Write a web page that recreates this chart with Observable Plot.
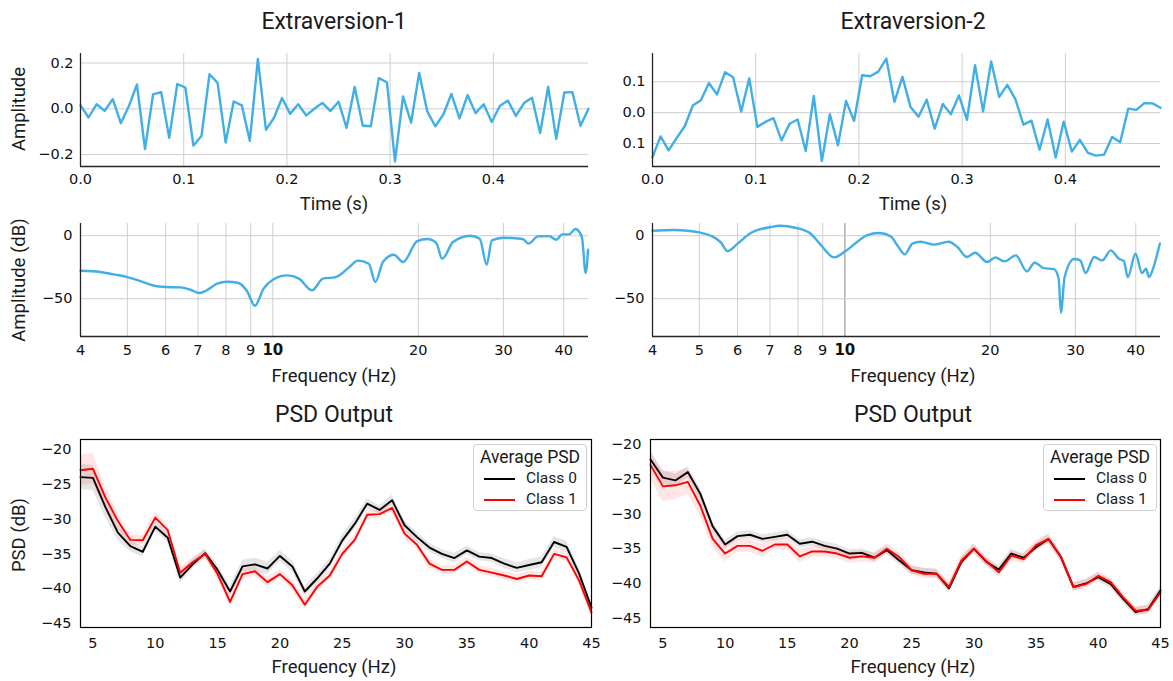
<!DOCTYPE html>
<html>
<head>
<meta charset="utf-8">
<script src="https://cdn.jsdelivr.net/npm/d3@7"></script>
<script src="https://cdn.jsdelivr.net/npm/@observablehq/plot@0.6"></script>
<style>
  html, body { margin: 0; padding: 0; background: #fff; }
  #fig { position: relative; width: 1173px; height: 681px; overflow: hidden; background: #fff; }
  .panel { position: absolute; }
  .panel svg { display: block; }
  .lbl { position: absolute; font-family: Roboto, sans-serif; font-size: 18.5px; color: #1a1a1a;
         white-space: nowrap; transform: translate(-50%, -50%); line-height: 1; }
  .rot { transform: translate(-50%, -50%) rotate(-90deg); }
  .title { font-size: 23px; }
  .legend { position: absolute; width: 114px; height: 67px; box-sizing: border-box;
            border: 1px solid #d0d0d0; border-radius: 4px; background: rgba(255,255,255,0.85);
            font-family: Roboto, sans-serif; color: #1a1a1a; }
  .legend .ltitle { position: absolute; left: 0; right: 0; top: 13px; text-align: center;
                    font-size: 17.5px; transform: translateY(-50%); line-height: 1; }
  .legend .swatch { position: absolute; left: 10px; width: 31px; height: 2px; }
  .legend .ltext { position: absolute; left: 52px; font-size: 15.5px; transform: translateY(-50%); line-height: 1; }
</style>
</head>
<body>
<div id="fig"></div>
<script>
// ---- Raw EEG segments (64 samples at 128 Hz) ----
const sampleRate = 128;
const ext1Amp = [0.015, -0.038, 0.02, -0.009, 0.042, -0.063, 0.012, 0.106, -0.176, 0.063,
  0.073, -0.127, 0.108, 0.093, -0.161, -0.119, 0.151, 0.113, -0.147, 0.032,
  0.015, -0.14, 0.218, -0.092, -0.039, 0.047, -0.022, 0.02, -0.029, 0.0,
  0.026, -0.01, 0.031, -0.083, 0.095, -0.073, -0.076, 0.134, 0.116, -0.23,
  0.054, -0.06, 0.157, -0.012, -0.076, -0.025, 0.065, -0.042, 0.06, -0.019,
  0.02, -0.058, 0.012, 0.036, -0.031, 0.025, 0.048, -0.106, 0.096, -0.131,
  0.071, 0.073, -0.074, 0.0];
const ext2Amp = [-0.144, -0.077, -0.122, -0.082, -0.044, 0.023, 0.04, 0.096, 0.059, 0.131,
  0.115, 0.004, 0.111, -0.046, -0.03, -0.018, -0.09, -0.036, -0.022, -0.124,
  0.054, -0.157, -0.005, -0.106, 0.038, -0.027, 0.121, 0.118, 0.133, 0.175,
  0.035, 0.116, 0.018, -0.013, 0.042, -0.052, 0.028, -0.005, 0.056, -0.023,
  0.154, 0.004, 0.166, 0.051, 0.09, 0.044, -0.039, -0.026, -0.12, -0.022,
  -0.145, -0.029, -0.126, -0.088, -0.13, -0.139, -0.136, -0.079, -0.096, 0.013,
  0.009, 0.031, 0.03, 0.016];
const timeTicks = [0, 0.1, 0.2, 0.3, 0.4];
const timeTickLabels = ["0.0", "0.1", "0.2", "0.3", "0.4"];
const ext1AmpTicks = [-0.2, 0, 0.2];
const ext1AmpTickLabels = ["\u22120.2", "0.0", "0.2"];
const ext2AmpTicks = [-0.1, 0, 0.1];
const ext2AmpTickLabels = ["0.1", "0.0", "0.1"];

// ---- Spectral amplitude of each segment (dB, log frequency) ----
const ext1RespFreq = [4, 4.4, 4.69, 5, 5.32, 5.68, 6, 6.44, 6.75, 7.05, 7.25, 7.67, 8.04, 8.46, 8.84, 9.18, 9.57,
  10.02, 10.7, 11.33, 12.05, 12.7, 13.5, 14.4, 15.0, 15.8, 16.3, 16.9, 17.8, 18.6, 19.9, 20.9, 21.8, 22.4,
  23.6, 25.6, 26.8, 27.7, 28.4, 30, 32.9, 33.8, 35.4, 37.3, 38.6, 39.7, 41, 42.3, 43.6, 44.4, 44.9];
const ext1RespDb = [-27.8, -28.8, -30.7, -32.8, -36, -39.7, -40.7, -41, -42.9, -45.5, -43.9, -38.1, -36.5, -37.3, -43.9, -55.6, -42,
  -34.7, -31.5, -34.1, -43.4, -34.1, -32.8, -24.9, -19.8, -22.2, -36.8, -20.9, -15.1, -20.9, -4.2, -2.6, -5.8, -18.3,
  -5, 0, -2.4, -23, -3.7, -1.6, -2.6, -6.3, -0.5, -0.3, -3.2, 1.1, 1.1, 5.3, -1, -29.6, -11.1];
const ext2RespFreq = [4, 4.43, 4.72, 5.0, 5.28, 5.54, 5.72, 6.0, 6.39, 7.03, 7.36, 7.9, 8.5, 8.9, 9.5, 9.97, 10.6, 11.1,
  11.77, 12.44, 12.85, 13.3, 13.8, 14.35, 15.3, 16.4, 17.1, 17.9, 18.6, 19.7, 20.5, 21.4, 22.6, 23.8, 24.7, 25.8,
  27.1, 27.7, 28.0, 28.5, 29.8, 30.7, 31.5, 32.8, 34.1, 35.5, 36.9, 37.8, 38.5, 39.95, 41.2, 42.0, 42.6, 43.6, 44.85];
const ext2RespDb = [4, 4.5, 4, 2.6, 0, -5.3, -12.2, -6.3, 2.1, 6.9, 7.9, 6.3, 1.6, -6.9, -17.2, -13, -5, 0.3,
  2.1, -0.5, -7.7, -14.8, -6.3, -4.8, -7.1, -4.8, -9, -16.9, -13.5, -20.9, -17.2, -20.4, -15.6, -28.3, -21.4, -25.7,
  -26.5, -34.1, -61.1, -32.8, -18.5, -19.6, -29.6, -16.9, -19.6, -11.6, -18.3, -20.1, -32.8, -14.3, -29.6, -26.2, -32.8, -24.1, -6.3];
const respFreqTicks = [4, 5, 6, 7, 8, 9, 10, 20, 30, 40];
const respDbTicks = [0, -50];
const respDbTickLabels = ["0", "\u221250"];

// ---- Average PSD per class, with spread (dB) ----
const psdFreq = [4, 5, 6, 7, 8, 9, 10, 11, 12, 13, 14, 15, 16, 17, 18, 19, 20, 21, 22, 23, 24,
  25, 26, 27, 28, 29, 30, 31, 32, 33, 34, 35, 36, 37, 38, 39, 40, 41, 42, 43, 44, 45];
const ext1Class0 = [-24.0, -24.1, -28.3, -31.95, -33.9, -34.7, -31.1, -32.7, -38.4, -36.5, -34.9, -37.3, -40.4, -36.8,
  -36.5, -37.1, -35.3, -36.8, -40.4, -38.5, -36.4, -33.1, -30.7, -27.8, -28.7, -27.3, -30.9, -32.6, -34.1, -35.0,
  -35.6, -34.5, -35.4, -35.6, -36.4, -37.0, -36.6, -36.2, -33.3, -34.0, -37.8, -42.7];
const ext1Class1 = [-23.0, -22.8, -26.9, -30.3, -33.0, -33.05, -29.8, -31.6, -37.7, -36.2, -35.0, -37.9, -41.9, -37.9,
  -37.5, -39.05, -37.9, -39.5, -42.3, -39.7, -38.1, -35.0, -33.0, -29.4, -29.3, -28.4, -32.1, -33.7, -36.4, -37.3,
  -37.3, -36.1, -37.3, -37.7, -38.1, -38.6, -38.1, -38.2, -35.0, -35.5, -38.8, -43.4];
const ext1Class0Spread = [1.8, 1.8, 1.5, 1.1, 0.8, 0.7, 0.6, 0.7, 0.8, 0.7, 0.6, 0.8, 0.8, 0.9, 0.9, 0.9, 0.8, 0.8,
  0.7, 0.7, 0.7, 0.8, 0.8, 0.7, 0.6, 0.7, 0.7, 0.7, 0.6, 0.6, 0.7, 0.6, 0.6, 0.6, 0.7, 0.7, 0.8, 0.8, 0.8, 0.8, 0.8, 0.6];
const ext1Class1Spread = [2.2, 2.2, 1.6, 1.1, 0.8, 0.7, 0.8, 0.8, 0.7, 0.6, 0.6, 0.7, 0.7, 0.7, 0.7, 0.7, 0.6, 0.7,
  0.7, 0.7, 0.7, 0.7, 0.7, 0.7, 0.6, 0.6, 0.7, 0.7, 0.7, 0.6, 0.6, 0.6, 0.6, 0.6, 0.6, 0.6, 0.6, 0.6, 0.6, 0.6, 0.6, 0.5];
const ext2Class0 = [-22.2, -24.8, -25.2, -24.0, -27.1, -31.8, -34.4, -33.2, -33.0, -33.6, -33.3, -33.0, -34.3, -34.0,
  -34.6, -35.0, -35.7, -35.6, -36.3, -35.2, -36.7, -38.1, -38.4, -38.6, -40.7, -36.9, -35.0, -36.9, -38.0, -35.7,
  -36.3, -34.8, -33.6, -36.2, -40.5, -40.0, -39.1, -40.1, -42.2, -44.1, -43.7, -41.0];
const ext2Class1 = [-23.0, -26.05, -25.9, -25.4, -28.8, -33.6, -35.7, -34.6, -34.6, -35.3, -34.4, -34.4, -36.1, -35.4,
  -35.4, -35.7, -36.3, -36.1, -36.3, -35.0, -36.2, -38.1, -38.6, -38.6, -40.5, -36.7, -35.0, -36.8, -38.4, -36.0,
  -36.5, -34.5, -33.6, -36.2, -40.5, -40.1, -38.9, -39.8, -42.0, -43.9, -43.8, -41.3];
const ext2Class0Spread = [1.0, 1.0, 0.9, 0.8, 0.8, 0.7, 0.6, 0.6, 0.6, 0.6, 0.6, 0.6, 0.6, 0.6, 0.6, 0.6, 0.6, 0.6,
  0.6, 0.6, 0.6, 0.6, 0.6, 0.6, 0.6, 0.6, 0.6, 0.6, 0.6, 0.6, 0.6, 0.6, 0.6, 0.6, 0.6, 0.6, 0.6, 0.6, 0.6, 0.6, 0.6, 0.6];
const ext2Class1Spread = [2.0, 2.2, 2.0, 1.8, 1.5, 1.3, 1.2, 0.9, 0.9, 0.9, 0.8, 0.8, 0.9, 0.8, 0.8, 0.8, 0.8, 0.8,
  0.8, 0.7, 0.7, 0.7, 0.7, 0.7, 0.7, 0.7, 0.7, 0.7, 0.7, 0.7, 0.7, 0.7, 0.7, 0.7, 0.6, 0.6, 0.6, 0.6, 0.6, 0.6, 0.6, 0.6];
const psdFreqTicks = [5, 10, 15, 20, 25, 30, 35, 40, 45];
const psdDbTicks = [-20, -25, -30, -35, -40, -45];
const psdDbTickLabels = ["\u221220", "\u221225", "\u221230", "\u221235", "\u221240", "\u221245"];
const classNames = ["Class 0", "Class 1"];
const classColors = ["#000000", "#ff0000"];

// ---- Shared styling ----
const lineBlue = "#41aee6";
const gridColor = "#cfcfcf";
const spineColor = "#262626";
const axisStyle = {
  fontFamily: "'DejaVu Sans', sans-serif", fontSize: "14.5px", color: "#111",
  background: "transparent", maxWidth: "none", overflow: "visible"
};
const labeler = (ticks, labels) => d => {
  const i = ticks.findIndex(t => Math.abs(t - d) < 1e-9);
  return i < 0 ? "" : labels[i];
};

const fig = document.getElementById("fig");
function mount(svg, left, top) {
  const holder = document.createElement("div");
  holder.className = "panel";
  holder.style.left = left + "px";
  holder.style.top = top + "px";
  holder.appendChild(svg);
  fig.appendChild(holder);
}
function text(str, x, y, cls) {
  const el = document.createElement("div");
  el.className = "lbl " + (cls || "");
  el.textContent = str;
  el.style.left = x + "px";
  el.style.top = y + "px";
  fig.appendChild(el);
}

// Time-domain panel
function timePanel(amp, yDomain, yTicks, yLabels, width, ml, mr) {
  const rows = amp.map((v, i) => ({t: i / sampleRate, v}));
  const xDomain = [0, (amp.length - 1) / sampleRate];
  return Plot.plot({
    width, height: 160, marginLeft: ml, marginRight: mr, marginTop: 13, marginBottom: 34,
    style: axisStyle,
    x: {domain: xDomain, ticks: timeTicks, tickFormat: labeler(timeTicks, timeTickLabels),
        tickSize: 0, tickPadding: 7, label: null},
    y: {domain: yDomain, ticks: yTicks, tickFormat: labeler(yTicks, yLabels),
        tickSize: 0, tickPadding: 7, label: null},
    marks: [
      Plot.ruleX(timeTicks, {stroke: gridColor, strokeWidth: 1}),
      Plot.ruleY(yTicks, {stroke: gridColor, strokeWidth: 1}),
      Plot.line(rows, {x: "t", y: "v", stroke: lineBlue, strokeWidth: 2.4}),
      Plot.ruleX([xDomain[0]], {stroke: spineColor, strokeWidth: 1.3}),
      Plot.ruleY([yDomain[0]], {stroke: spineColor, strokeWidth: 1.3})
    ]
  });
}

// Spectral amplitude panel (log frequency axis); the decade line can be drawn twice
function respPanel(freq, db, width, ml, mr, decadeEmphasis) {
  const rows = freq.map((f, i) => ({f, db: db[i]}));
  const yDomain = [-80, 9.7];
  const svg = Plot.plot({
    width, height: 200, marginLeft: ml, marginRight: mr, marginTop: 23, marginBottom: 64,
    style: axisStyle,
    x: {type: "log", domain: [4, 45], ticks: respFreqTicks, tickFormat: d => String(d),
        tickSize: 0, tickPadding: 8, label: null},
    y: {domain: yDomain, ticks: respDbTicks, tickFormat: labeler(respDbTicks, respDbTickLabels),
        tickSize: 0, tickPadding: 8, label: null},
    marks: [
      Plot.ruleX(respFreqTicks, {stroke: gridColor, strokeWidth: 1}),
      decadeEmphasis ? Plot.ruleX([10], {stroke: "#b5b5b5", strokeWidth: 1.5}) : null,
      Plot.ruleY(respDbTicks, {stroke: gridColor, strokeWidth: 1}),
      Plot.line(rows, {x: "f", y: "db", stroke: lineBlue, strokeWidth: 2.4, curve: "monotone-x"}),
      Plot.ruleX([4], {stroke: spineColor, strokeWidth: 1.3}),
      Plot.ruleY([yDomain[0]], {stroke: spineColor, strokeWidth: 1.3})
    ]
  });
  d3.select(svg).selectAll("text")
    .filter(function () { return this.textContent === "10"; })
    .attr("font-weight", "bold")
    .attr("font-size", "15px");
  return svg;
}

// Average PSD panel with class bands
function psdPanel(c0, c1, s0, s1, yDomain, width, ml, mr) {
  const rows = psdFreq.map((f, i) => ({
    f, c0: c0[i], c1: c1[i],
    c0lo: c0[i] - s0[i], c0hi: c0[i] + s0[i],
    c1lo: c1[i] - s1[i], c1hi: c1[i] + s1[i]
  }));
  return Plot.plot({
    width, height: 261, marginLeft: ml, marginRight: mr, marginTop: 19, marginBottom: 54,
    style: axisStyle,
    x: {domain: [psdFreq[0], psdFreq[psdFreq.length - 1]], ticks: psdFreqTicks,
        tickSize: 0, tickPadding: 10, label: null},
    y: {domain: yDomain, ticks: psdDbTicks, tickFormat: labeler(psdDbTicks, psdDbTickLabels),
        tickSize: 0, tickPadding: 9, label: null},
    marks: [
      Plot.areaY(rows, {x: "f", y1: "c0lo", y2: "c0hi", fill: classColors[0], fillOpacity: 0.1}),
      Plot.line(rows, {x: "f", y: "c0", stroke: classColors[0], strokeWidth: 1.9}),
      Plot.areaY(rows, {x: "f", y1: "c1lo", y2: "c1hi", fill: classColors[1], fillOpacity: 0.1}),
      Plot.line(rows, {x: "f", y: "c1", stroke: classColors[1], strokeWidth: 1.9}),
      Plot.frame({stroke: "#000", strokeWidth: 1.2})
    ]
  });
}

function legend(left, top) {
  const box = document.createElement("div");
  box.className = "legend";
  box.style.left = left + "px";
  box.style.top = top + "px";
  const t = document.createElement("div");
  t.className = "ltitle";
  t.textContent = "Average PSD";
  box.appendChild(t);
  classNames.forEach((name, i) => {
    const cy = 34 + i * 21;
    const sw = document.createElement("div");
    sw.className = "swatch";
    sw.style.top = (cy - 1) + "px";
    sw.style.background = classColors[i];
    box.appendChild(sw);
    const lt = document.createElement("div");
    lt.className = "ltext";
    lt.style.top = cy + "px";
    lt.textContent = name;
    box.appendChild(lt);
  });
  fig.appendChild(box);
}

// Row 1: raw segments
mount(timePanel(ext1Amp, [-0.252, 0.2415], ext1AmpTicks, ext1AmpTickLabels, 600, 80, 12), 0, 40);
mount(timePanel(ext2Amp, [-0.1744, 0.1916], ext2AmpTicks, ext2AmpTickLabels, 583, 62, 13), 590, 40);
// Row 2: spectral amplitude
mount(respPanel(ext1RespFreq, ext1RespDb, 600, 80, 12, false), 0, 200);
mount(respPanel(ext2RespFreq, ext2RespDb, 583, 62, 13, true), 590, 200);
// Row 3: class-averaged PSD
mount(psdPanel(ext1Class0, ext1Class1, ext1Class0Spread, ext1Class1Spread, [-45.56, -18.6], 600, 80, 9), 0, 420);
mount(psdPanel(ext2Class0, ext2Class1, ext2Class0Spread, ext2Class1Spread, [-46.32, -19.32], 583, 60, 13), 590, 420);

// Titles and axis labels
text("Extraversion-1", 334, 21, "title");
text("Extraversion-2", 913, 21, "title");
text("Amplitude", 19, 109, "rot");
text("Time (s)", 334, 204);
text("Time (s)", 913, 204);
text("Amplitude (dB)", 19, 280, "rot");
text("Frequency (Hz)", 334, 376);
text("Frequency (Hz)", 913, 376);
text("PSD Output", 334, 414, "title");
text("PSD Output", 913, 414, "title");
text("PSD (dB)", 19, 535, "rot");
text("Frequency (Hz)", 334, 667);
text("Frequency (Hz)", 913, 667);

legend(473, 444);
legend(1043, 444);
</script>
</body>
</html>
